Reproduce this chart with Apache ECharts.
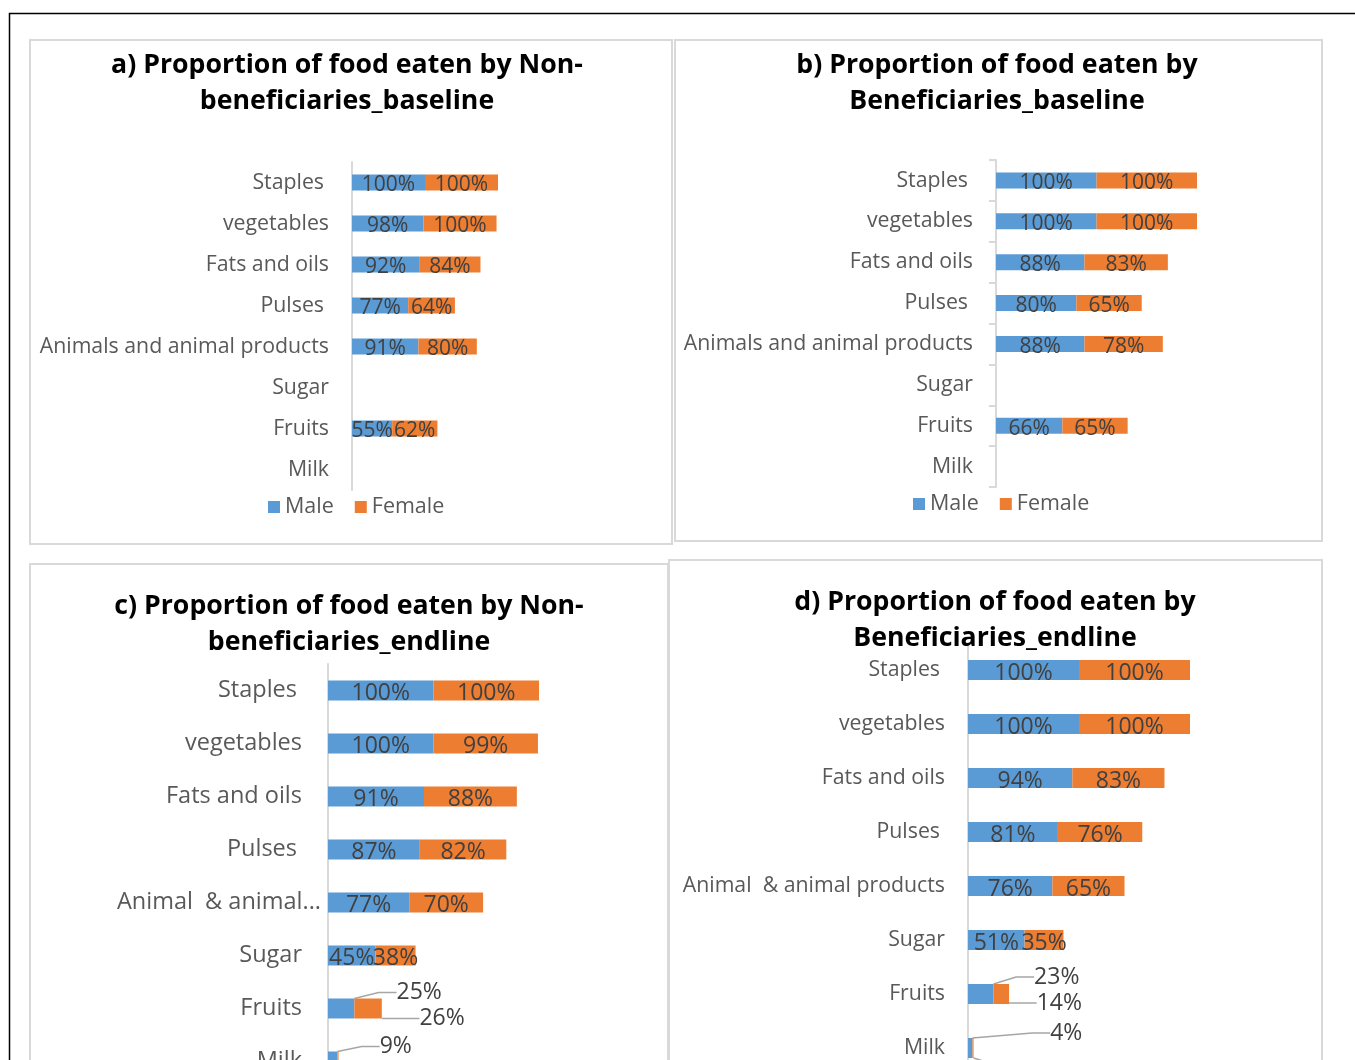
<!DOCTYPE html>
<html>
<head>
<meta charset="utf-8">
<script src="https://cdn.jsdelivr.net/npm/echarts@6/dist/echarts.min.js"></script>
<style>
html,body{margin:0;padding:0;background:#fff;}
#c{width:1355px;height:1060px;}
</style>
</head>
<body>
<div id="c"></div>
<script>
// ---- data ----
const categoriesAB = ['Staples','vegetables','Fats and oils','Pulses','Animals and animal products','Sugar','Fruits','Milk'];
const categoriesC = ['Staples','vegetables','Fats and oils','Pulses','Animal  & animal products','Sugar','Fruits','Milk'];
const categoriesD = ['Staples','vegetables','Fats and oils','Pulses','Animal  & animal products','Sugar','Fruits','Milk'];
const maleA = [100,98,92,77,91,null,55,null];
const femaleA = [100,100,84,64,80,null,62,null];
const maleB = [100,100,88,80,88,null,66,null];
const femaleB = [100,100,83,65,78,null,65,null];
const maleC = [100,100,91,87,77,45,25,9];
const femaleC = [100,99,88,82,70,38,26,1];
const maleD = [100,100,94,81,76,51,23,4];
const femaleD = [100,100,83,76,65,35,14,1];
const titles = [
  'a) Proportion of food eaten by Non-\nbeneficiaries_baseline',
  'b) Proportion of food eaten by\nBeneficiaries_baseline',
  'c) Proportion of food eaten by Non-\nbeneficiaries_endline',
  'd) Proportion of food eaten by\nBeneficiaries_endline'
];

// ---- layout ----
const BLUE = '#5B9BD5', ORANGE = '#ED7D31';
const FONT = 'Open Sans';
const panels = [
  {cats: categoriesAB, m: maleA, f: femaleA, grid:{left:352, top:162, width:146, height:328}, catSize:21.3, lblSize:21, ticks:false, barW:16, tx:347, ty:83.5, margin:23, basePad:0},
  {cats: categoriesAB, m: maleB, f: femaleB, grid:{left:996, top:160, width:201, height:327}, catSize:21.3, lblSize:21, ticks:true, barW:16, tx:997, ty:83.5, margin:23, basePad:0},
  {cats: categoriesC, m: maleC, f: femaleC, grid:{left:328, top:664, width:211, height:424}, catSize:23.5, lblSize:23, ticks:false, barW:20, tx:349, ty:624.5, margin:7, basePad:19, trunc:208},
  {cats: categoriesD, m: maleD, f: femaleD, grid:{left:968, top:643, width:222, height:432}, catSize:21.3, lblSize:23, ticks:false, barW:20, tx:995, ty:620.5, margin:23, basePad:0}
];
const extraPad = {'Staples':5, 'Pulses':5};
// label offsets (dx,dy) for outside labels with leader lines: [panel][series 0 male / 1 female][dataIndex]
const outside = {
  2: {0: {6:[78,-16], 7:[63,-15]}, 1: {6:[74,10], 7:[70,22]}},
  3: {0: {6:[76,-17], 7:[96,-15]}, 1: {6:[58,9], 7:[80,24]}}
};

const grids=[], xAxes=[], yAxes=[], series=[], graphics=[];
panels.forEach((p,i)=>{
  grids.push(Object.assign({containLabel:false, outerBoundsMode:'none'}, p.grid));
  xAxes.push({type:'value', gridIndex:i, min:0, max:200, show:false});
  const catItems = p.cats.map(c=>{
    const isTrunc = p.trunc && c.startsWith('Animal');
    const pad = isTrunc ? 0 : p.basePad + (extraPad[c]||0);
    return {value:c, textStyle:{padding:[0,pad,0,0]}};
  });
  yAxes.push({type:'category', gridIndex:i, data:catItems, inverse:true,
    axisLine:{show:true, lineStyle:{color:'#D9D9D9', width:2}},
    axisTick:{show:p.ticks, length:7, lineStyle:{color:'#D9D9D9', width:2}},
    axisLabel:{color:'#595959', fontSize:p.catSize, fontFamily:FONT, margin:p.margin,
      width:p.trunc||undefined, overflow:p.trunc?'truncate':undefined, ellipsis:'...'}
  });
  [['Male',p.m,BLUE],['Female',p.f,ORANGE]].forEach(([name,vals,col],si)=>{
    const off = (outside[i]||{})[si]||{};
    const data = vals.map((v,di)=> off[di] ? {value:v, labelLine:{show:true}} : v);
    series.push({
      name, type:'bar', stack:'s'+i, xAxisIndex:i, yAxisIndex:i, barWidth:p.barW,
      itemStyle:{color:col},
      label:{show:true, position:'inside', formatter:'{c}%', color:'#404040', fontSize:p.lblSize, fontFamily:FONT},
      labelLine:{show:false, length2:18, lineStyle:{color:'#A6A6A6', width:1.5}},
      labelLayout:function(params){ const o=off[params.dataIndex]; return o?{dx:o[0], dy:o[1]}:{dy:3}; },
      data
    });
  });
  graphics.push({type:'text', x:p.tx, y:p.ty, z:10, style:{text:titles[i], fill:'#000', font:'bold 26.7px "Open Sans"', lineHeight:36, textAlign:'center', textVerticalAlign:'middle'}});
});

// panel frames and outer border
[[30,40,642,504],[675,40,647,501],[30,564,638,560],[669,560,653,560]].forEach(r=>{
  graphics.push({type:'rect', z:-1, shape:{x:r[0],y:r[1],width:r[2],height:r[3]}, style:{fill:null, stroke:'#D9D9D9', lineWidth:2}});
});
graphics.push({type:'rect', z:-1, shape:{x:9.5,y:13.5,width:1400,height:1100}, style:{fill:null, stroke:'#000', lineWidth:1.5}});

const legendCommon = {icon:'rect', itemWidth:12, itemHeight:12, itemGap:21, padding:0, orient:'horizontal',
  textStyle:{color:'#595959', fontSize:21.5, fontFamily:FONT}, data:['Male','Female']};

const chart = echarts.init(document.getElementById('c'), null, {renderer:'canvas'});
chart.setOption({
  animation:false,
  grid:grids, xAxis:xAxes, yAxis:yAxes, series,
  legend:[Object.assign({left:268, top:496}, legendCommon), Object.assign({left:913, top:493}, legendCommon)],
  graphic:graphics
});
</script>
</body>
</html>
